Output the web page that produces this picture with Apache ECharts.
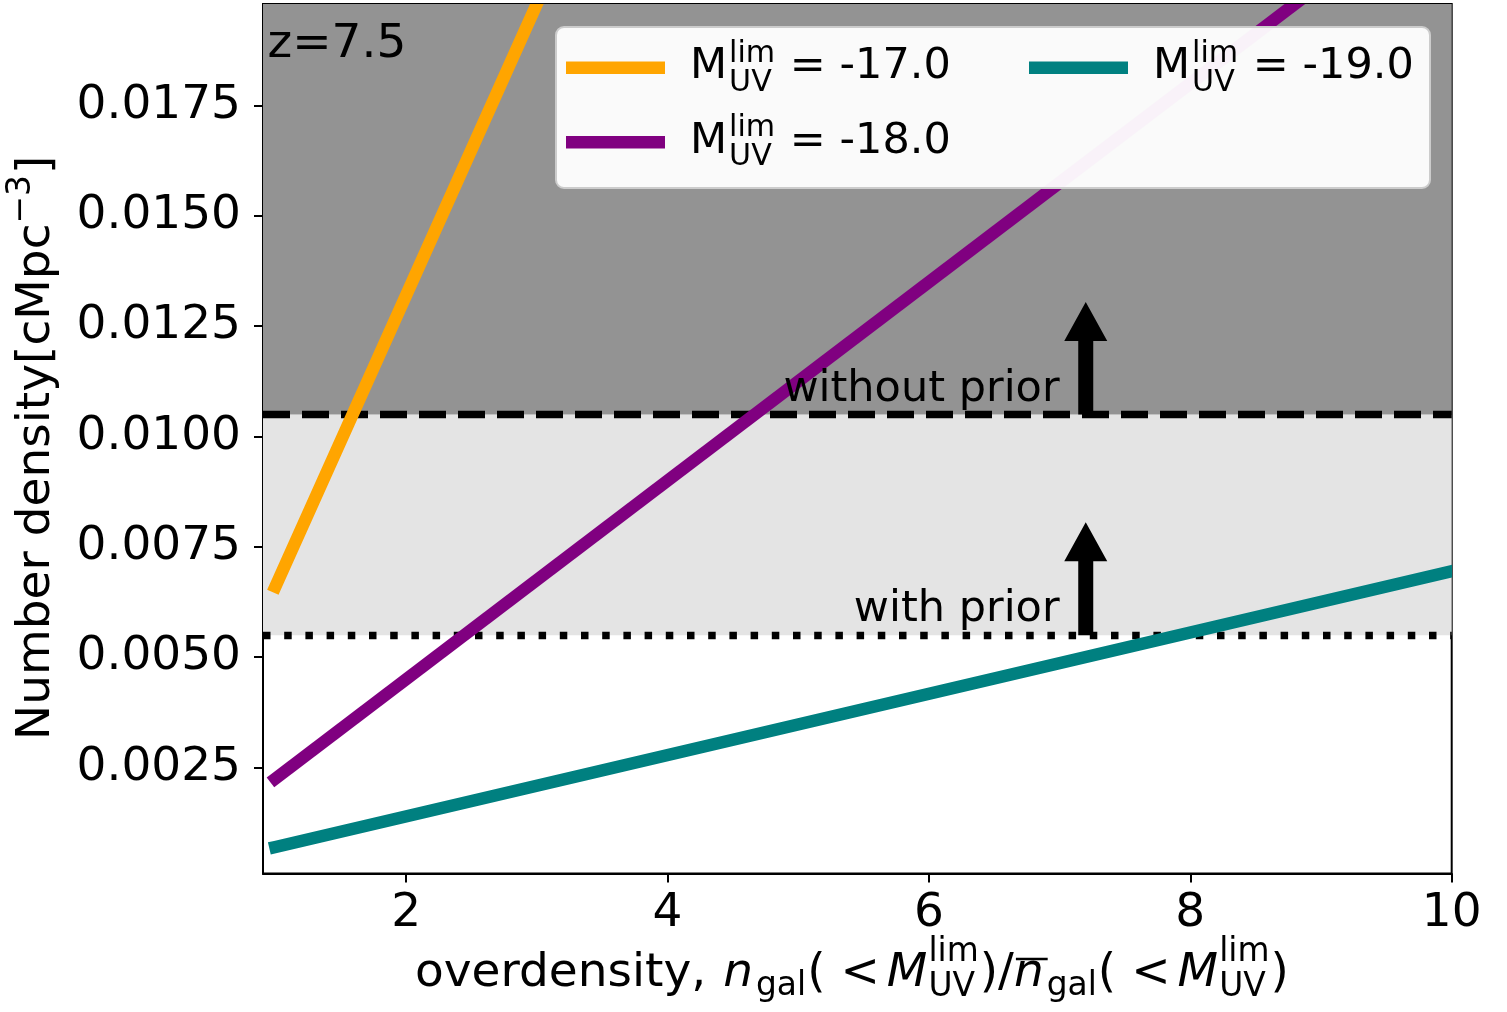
<!DOCTYPE html>
<html>
<head>
<meta charset="utf-8">
<script src="https://cdn.jsdelivr.net/npm/echarts@6.0.0/dist/echarts.min.js"></script>
<style>
  html, body { margin: 0; padding: 0; background: #fff; }
  #chart { width: 1507px; height: 1012px; }
</style>
</head>
<body>
<div id="chart"></div>
<script>
// values
var overdensity = [1, 10];
var nLim17 = [0.0066, 0.066];
var nLim18 = [0.00225, 0.0225];
var nLim19 = [0.0007, 0.00695];
var xTicks = [2, 4, 6, 8, 10];
var yTicks = [0.0025, 0.0050, 0.0075, 0.0100, 0.0125, 0.0150, 0.0175];
var xMin = 0.905, xMax = 10;
var yMin = 0.0001, yMax = 0.0198;
var nWithoutPrior = 0.0105;
var nWithPrior = 0.0055;
var arrowX = [7.2, 7.2];
var arrowFrom = [nWithoutPrior, nWithPrior];
var arrowTo = [0.01305, 0.00806];
var noteX = [7.0, 7.0];
var noteY = [0.01073, 0.00573];
var noteText = ['without prior', 'with prior'];

var FAM = 'DejaVu Sans';
var MID = 0.346;   // canvas 'middle' baseline sits this many em above alphabetic
var ctx = document.createElement('canvas').getContext('2d');

function measure(t, size, it) {
  ctx.font = (it ? 'italic ' : '') + size + 'px "' + FAM + '"';
  return ctx.measureText(t).width;
}
function txt(t, x, base, size, it, align) {
  return {
    type: 'text', x: x, y: base - MID * size, z: 100,
    style: { text: t, fill: '#000', fontSize: size, fontFamily: FAM,
      fontStyle: it ? 'italic' : 'normal', align: align || 'left', verticalAlign: 'middle' }
  };
}
// lays out a row of text pieces (mathtext-like), returns graphic elements
function mathRow(pieces, x0, base, size) {
  var small = size * 0.7, out = [], x = x0;
  pieces.forEach(function (p) {
    x += p.gap || 0;
    if (p.sup !== undefined || p.sub !== undefined) {
      var w = 0;
      if (p.sup) { out.push(txt(p.sup, x, base + p.supDy, small)); w = Math.max(w, measure(p.sup, small)); }
      if (p.sub) { out.push(txt(p.sub, x, base + p.subDy, small)); w = Math.max(w, measure(p.sub, small)); }
      x += w;
    } else {
      var s = p.small ? small : size;
      out.push(txt(p.t, x, base + (p.dy || 0), s, p.it));
      var w2 = measure(p.t, s, p.it);
      if (p.over) {
        out.push({ type: 'line', z: 100, shape: { x1: x + 2, y1: base - 0.66 * size, x2: x + w2 + 4, y2: base - 0.66 * size },
          style: { stroke: '#000', lineWidth: 2.5 } });
      }
      x += w2;
    }
  });
  return out;
}

var xLabelPieces = [
  { t: 'overdensity, ' },
  { t: 'n', it: 1, gap: 2 },
  { t: 'gal', small: 1, dy: 8, gap: 3 },
  { t: '(', gap: 1 },
  { t: '<', gap: 15 },
  { t: 'M', it: 1, gap: 7 },
  { sup: 'lim', sub: 'UV', supDy: -26, subDy: 9, gap: 1 },
  { t: ')', gap: 1 },
  { t: '/' },
  { t: 'n', it: 1, over: 1 },
  { t: 'gal', small: 1, dy: 8, gap: 3 },
  { t: '(', gap: 1 },
  { t: '<', gap: 15 },
  { t: 'M', it: 1, gap: 7 },
  { sup: 'lim', sub: 'UV', supDy: -26, subDy: 9, gap: 1 },
  { t: ')', gap: 1 }
];

function legendLabel(val) {
  return [{ t: 'M' }, { sup: 'lim', sub: 'UV', supDy: -17.5, subDy: 11.5, gap: 2 }, { t: ' = ' + val, gap: 1 }];
}
var legendItems = [
  { name: '-17.0', color: '#FFA500', x: 566, y: 67.7 },
  { name: '-18.0', color: '#800080', x: 566, y: 142.3 },
  { name: '-19.0', color: '#008080', x: 1029, y: 67.7 }
];

var graphics = [];
// legend frame
graphics.push({ type: 'rect', z: 99, shape: { x: 556, y: 27, width: 874, height: 161, r: 8 },
  style: { fill: 'rgba(255,255,255,0.95)', stroke: '#cccccc', lineWidth: 2 } });
legendItems.forEach(function (it) {
  graphics.push({ type: 'line', z: 100, shape: { x1: it.x, y1: it.y, x2: it.x + 99, y2: it.y },
    style: { stroke: it.color, lineWidth: 12.5 } });
  graphics = graphics.concat(mathRow(legendLabel(it.name), it.x + 124, it.y + 14, 43));
});
// z label
graphics.push(txt('z=7.5', 267.5, 61, 47));
// x axis title
graphics = graphics.concat(mathRow(xLabelPieces, 415, 990, 47));
// y axis title, rotated
graphics.push({
  type: 'group', x: 53, y: 740, rotation: Math.PI / 2,
  children: mathRow([{ t: 'Number density[cMpc' }, { sup: '\u22123', supDy: -20 }, { t: ']', gap: 1 }], 0, 0, 47)
});

var chart = echarts.init(document.getElementById('chart'), null, { renderer: 'canvas' });

function curve(ys) {
  return overdensity.map(function (x, i) { return [x, ys[i]]; });
}
// drawn as custom series so the clip is exactly the axes box
function curveSeries(name, ys, color) {
  return {
    name: name, type: 'custom', clip: true, z: 5, silent: true,
    data: curve(ys), encode: { x: 0, y: 1 },
    renderItem: function (params, api) {
      if (params.dataIndex !== 0) return;
      var pts = curve(ys).map(function (p) { return api.coord(p); });
      return { type: 'polyline', shape: { points: pts },
        style: { stroke: color, lineWidth: 12.5, lineCap: 'square', fill: null } };
    }
  };
}

var option = {
  animation: false,
  grid: { left: 263, right: 55.3, top: 4, bottom: 138.5, containLabel: false,
    show: true, borderColor: '#000', borderWidth: 2, backgroundColor: 'rgba(0,0,0,0)' },
  xAxis: {
    type: 'value', min: xMin, max: xMax,
    axisLine: { show: true, onZero: false, lineStyle: { color: '#000', width: 2 } },
    axisTick: { show: true, length: 9, customValues: xTicks, lineStyle: { color: '#000', width: 2 } },
    axisLabel: { customValues: xTicks, fontSize: 47, fontFamily: FAM, color: '#000', margin: 17 },
    splitLine: { show: false }
  },
  yAxis: {
    type: 'value', min: yMin, max: yMax,
    axisLine: { show: true, onZero: false, lineStyle: { color: '#000', width: 2 } },
    axisTick: { show: true, length: 9, customValues: yTicks, lineStyle: { color: '#000', width: 2 } },
    axisLabel: { customValues: yTicks, fontSize: 47, fontFamily: FAM, color: '#000', margin: 22,
      formatter: function (v) { return v.toFixed(4); } },
    splitLine: { show: false }
  },
  graphic: graphics,
  series: [
    {
      // shaded bands
      type: 'line', data: [], z: 1, silent: true,
      markArea: {
        silent: true,
        data: [
          [{ xAxis: xMin, yAxis: nWithPrior, itemStyle: { color: '#e4e4e4', opacity: 1 } }, { xAxis: xMax, yAxis: nWithoutPrior }],
          [{ xAxis: xMin, yAxis: nWithoutPrior, itemStyle: { color: '#939393', opacity: 1 } }, { xAxis: xMax, yAxis: yMax }]
        ]
      }
    },
    {
      // limits
      type: 'line', data: [], z: 3, silent: true,
      markLine: {
        silent: true, precision: 6, symbol: ['none', 'none'], label: { show: false },
        data: [
          { yAxis: nWithoutPrior, lineStyle: { color: '#000', width: 7.3, type: [27, 12], opacity: 1 } },
          { yAxis: nWithPrior, lineStyle: { color: '#000', width: 7.3, type: [7.5, 13.7], opacity: 1 } }
        ]
      }
    },
    curveSeries('-17.0', nLim17, '#FFA500'),
    curveSeries('-18.0', nLim18, '#800080'),
    curveSeries('-19.0', nLim19, '#008080'),
    {
      type: 'custom', z: 6, silent: true,
      data: arrowX.map(function (x, i) { return [x, arrowFrom[i], arrowTo[i]]; }),
      encode: { x: 0, y: [1, 2] },
      renderItem: function (params, api) {
        var b = api.coord([api.value(0), api.value(1)]);
        var t = api.coord([api.value(0), api.value(2)]);
        var hw = 7.5, hh = 21.5, hl = 39;
        return {
          type: 'polygon',
          shape: { points: [[b[0] - hw, b[1]], [b[0] - hw, t[1] + hl], [b[0] - hh, t[1] + hl], [t[0], t[1]],
            [b[0] + hh, t[1] + hl], [b[0] + hw, t[1] + hl], [b[0] + hw, b[1]]] },
          style: { fill: '#000' }
        };
      }
    },
    {
      type: 'custom', z: 6, silent: true,
      data: noteX.map(function (x, i) { return [x, noteY[i]]; }),
      renderItem: function (params, api) {
        var p = api.coord([api.value(0), api.value(1)]);
        return {
          type: 'text', x: p[0], y: p[1] - MID * 43,
          style: { text: noteText[params.dataIndex], fill: '#000', fontSize: 43, fontFamily: FAM,
            align: 'right', verticalAlign: 'middle' }
        };
      }
    }
  ]
};
chart.setOption(option);
</script>
</body>
</html>
